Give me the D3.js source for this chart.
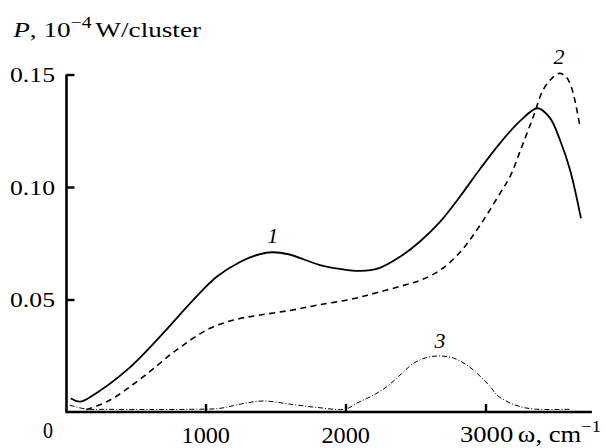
<!DOCTYPE html>
<html>
<head>
<meta charset="utf-8">
<script src="https://cdn.jsdelivr.net/npm/d3@7"></script>
<style>
  html, body { margin: 0; padding: 0; background: #fff; }
  svg text { font-family: "Liberation Serif", "Times New Roman", serif; fill: #000; }
</style>
</head>
<body>
<svg id="chart" width="606" height="448"></svg>
<script>
// Radiated power spectra, P (10^-4 W/cluster) vs frequency ω (cm^-1)
const omega1 = [37, 104, 200, 440, 675, 913, 1080, 1250, 1390, 1473, 1600, 1818, 1960, 2104, 2246, 2390, 2532, 2675, 2818, 2961, 3104, 3246, 3373, 3460, 3532, 3604, 3682];
const power1 = [0.0061, 0.0046, 0.0076, 0.0187, 0.0335, 0.0498, 0.0601, 0.0668, 0.0702, 0.0710, 0.0700, 0.0653, 0.0636, 0.0627, 0.0641, 0.0690, 0.0758, 0.0845, 0.0958, 0.1080, 0.1195, 0.1293, 0.1350, 0.1307, 0.1209, 0.1076, 0.0861];

const omega2 = [150, 318, 556, 794, 1032, 1223, 1389, 1600, 1800, 2054, 2221, 2400, 2532, 2675, 2818, 2961, 3104, 3175, 3260, 3341, 3411, 3470, 3527, 3575, 3616, 3675];
const power2 = [0.0010, 0.0053, 0.0157, 0.0276, 0.0372, 0.0412, 0.0431, 0.0451, 0.0475, 0.0503, 0.0530, 0.0560, 0.0585, 0.0630, 0.0710, 0.0830, 0.0972, 0.1046, 0.1180, 0.1312, 0.1431, 0.1480, 0.1505, 0.1490, 0.1439, 0.1268];

const omega3 = [30, 150, 300, 600, 900, 1100, 1250, 1413, 1600, 1800, 2000, 2080, 2200, 2294, 2400, 2484, 2580, 2675, 2770, 2866, 2960, 3044, 3080, 3160, 3246, 3350, 3600];
const power3 = [0.0030, 0.0013, 0.0012, 0.0011, 0.0012, 0.0016, 0.0035, 0.0049, 0.0035, 0.0020, 0.0013, 0.0039, 0.0075, 0.0112, 0.0170, 0.0216, 0.0242, 0.0249, 0.0240, 0.0209, 0.0160, 0.0105, 0.0076, 0.0045, 0.0024, 0.0013, 0.0012];

const curveNames = ["1", "2", "3"];
// label anchor positions in data units
const labelOmega = [1480, 3525, 2675];
const labelPower = [0.0752, 0.1547, 0.0285];

const xTicks = [1000, 2000, 3000];
const yTicks = [0.05, 0.10, 0.15];
const yTickLabels = ["0.05", "0.10", "0.15"];

const svg = d3.select("#chart");

const x = d3.scaleLinear().domain([0, 1000]).range([65.5, 205.5]);
const y = d3.scaleLinear().domain([0, 0.15]).range([412, 74.5]);
const xEnd = 3760;

const series = [
  { w: omega1, p: power1, width: 1.8, dash: null },
  { w: omega2, p: power2, width: 1.6, dash: "6,4.5" },
  { w: omega3, p: power3, width: 1.0, dash: "5,2,1,2" }
];

const line = d3.line()
  .x(d => x(d[0]))
  .y(d => y(d[1]))
  .curve(d3.curveCatmullRom.alpha(0.5));

series.forEach(s => {
  svg.append("path")
    .datum(s.w.map((w, i) => [w, s.p[i]]))
    .attr("d", line)
    .attr("fill", "none")
    .attr("stroke", "#000")
    .attr("stroke-width", s.width)
    .attr("stroke-dasharray", s.dash);
});

// axes: inward ticks, no outer ticks
const xAxis = d3.axisBottom(x).tickValues(xTicks).tickSize(-8).tickSizeOuter(0).tickFormat("");
const gx = svg.append("g").attr("transform", `translate(0,${y(0)})`).call(xAxis);
gx.select(".domain").attr("d", `M${x(0)},0H${x(xEnd)}`);

const yAxis = d3.axisLeft(y).tickValues(yTicks).tickSize(-8).tickSizeOuter(0).tickFormat("");
const gy = svg.append("g").attr("transform", `translate(${x(0) + 1},0)`).call(yAxis);
gy.select(".domain").attr("d", `M0,${y(0)}V${y(0.15)}`);

[gx, gy].forEach(g => {
  g.select(".domain").attr("stroke", "#000").attr("stroke-width", 2.6);
  g.selectAll(".tick line").attr("stroke", "#000").attr("stroke-width", 2.4);
});

// widen a text node horizontally so that it spans [x0, x1]
function fitWidth(node, x0, x1) {
  const b = node.getBBox();
  const s = (x1 - x0) / b.width;
  node.setAttribute("transform", `translate(${x0},0) scale(${s},1) translate(${-b.x},0)`);
}

// tick labels
svg.selectAll(".ylab").data(yTicks).enter().append("text")
  .attr("class", "ylab")
  .attr("x", 56).attr("y", d => y(d) + 8)
  .attr("text-anchor", "end").attr("font-size", 22)
  .text((d, i) => yTickLabels[i])
  .each(function () { fitWidth(this, 10, 55); });

svg.selectAll(".xlab").data(xTicks.slice(0, 2)).enter().append("text")
  .attr("class", "xlab")
  .attr("x", d => x(d)).attr("y", 443)
  .attr("text-anchor", "middle").attr("font-size", 23)
  .text(d => d)
  .each(function (d) { fitWidth(this, x(d) - 24, x(d) + 24.5); });

svg.append("text").attr("x", 47.5).attr("y", 438)
  .attr("text-anchor", "middle").attr("font-size", 23).text("0")
  .each(function () { fitWidth(this, 43, 53); });

const xl = svg.append("text").attr("x", 460).attr("y", 442).attr("font-size", 23);
xl.append("tspan").text("3000");
xl.append("tspan").attr("dx", 4).text("ω, cm");
xl.append("tspan").attr("dy", -10).attr("font-size", 16).text("−1");
fitWidth(xl.node(), 460, 601);

// y title
const yt = svg.append("text").attr("x", 12).attr("y", 37).attr("font-size", 22);
yt.append("tspan").attr("font-style", "italic").text("P");
yt.append("tspan").text(", 10");
yt.append("tspan").attr("dy", -9).attr("font-size", 16).text("−4");
yt.append("tspan").attr("dy", 9).attr("dx", 3).text("W/cluster");
fitWidth(yt.node(), 12, 202);

// curve numbers
svg.selectAll(".clab").data(curveNames).enter().append("text")
  .attr("class", "clab")
  .attr("x", (d, i) => x(labelOmega[i])).attr("y", (d, i) => y(labelPower[i]))
  .attr("text-anchor", "middle").attr("font-size", 22).attr("font-style", "italic")
  .text(d => d);
</script>
</body>
</html>
